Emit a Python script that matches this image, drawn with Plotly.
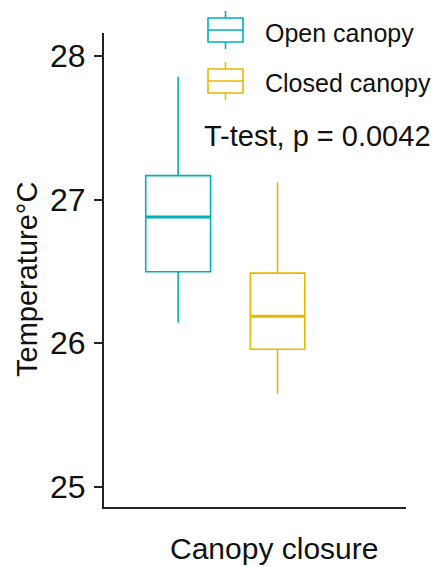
import plotly.graph_objects as go

# Temperature summaries (°C) for each canopy class
groups = ["Open canopy", "Closed canopy"]
colors = ["#00AFBB", "#E7B800"]
q1 = [26.498, 25.958]
median = [26.879, 26.188]
q3 = [27.167, 26.488]
lower_whisker = [26.144, 25.648]
upper_whisker = [27.856, 27.121]
p_value = 0.0042

y_ticks = [25, 26, 27, 28]

# box placement along the (unlabelled) x axis
box_pos = [0.2455, 0.5747]
box_width = [0.2147, 0.1805]

FONT = "Liberation Sans, Arial, sans-serif"
W, H = 438, 567
ML, MR, MT, MB = 104, 32, 33, 60
PW, PH = W - ML - MR, H - MT - MB


def px_x(x):
    return (x - ML) / PW


def px_y(y):
    return (H - MB - y) / PH


fig = go.Figure()

for i, g in enumerate(groups):
    fig.add_trace(go.Box(
        x=[box_pos[i]], q1=[q1[i]], median=[median[i]], q3=[q3[i]],
        lowerfence=[lower_whisker[i]], upperfence=[upper_whisker[i]],
        width=box_width[i], whiskerwidth=0,
        line=dict(color=colors[i], width=1.6),
        fillcolor="rgba(255,255,255,0)",
        name=g, showlegend=False, hoverinfo="skip",
    ))
    # heavier median stroke
    fig.add_trace(go.Scatter(
        x=[box_pos[i] - box_width[i] / 2, box_pos[i] + box_width[i] / 2],
        y=[median[i], median[i]], mode="lines",
        line=dict(color=colors[i], width=3.2),
        showlegend=False, hoverinfo="skip",
    ))

shapes = []
annotations = []

# legend keys: small box-and-whisker glyphs with labels
key_left, key_right = 208, 243
key_centers = [30, 81]
label_centers = [32.5, 83]
for i, g in enumerate(groups):
    cy = key_centers[i]
    c = colors[i]
    shapes.append(dict(type="rect", xref="paper", yref="paper",
                       x0=px_x(key_left), x1=px_x(key_right),
                       y0=px_y(cy - 12), y1=px_y(cy + 12),
                       line=dict(color=c, width=1.6)))
    shapes.append(dict(type="line", xref="paper", yref="paper",
                       x0=px_x(key_left), x1=px_x(key_right),
                       y0=px_y(cy), y1=px_y(cy),
                       line=dict(color=c, width=1.6)))
    xm = px_x((key_left + key_right) / 2)
    shapes.append(dict(type="line", xref="paper", yref="paper",
                       x0=xm, x1=xm, y0=px_y(cy - 12), y1=px_y(cy - 19),
                       line=dict(color=c, width=1.6)))
    shapes.append(dict(type="line", xref="paper", yref="paper",
                       x0=xm, x1=xm, y0=px_y(cy + 12), y1=px_y(cy + 19),
                       line=dict(color=c, width=1.6)))
    annotations.append(dict(text=g, xref="paper", yref="paper",
                            x=px_x(263), y=px_y(label_centers[i]),
                            xanchor="left", yanchor="middle", showarrow=False,
                            font=dict(family=FONT, size=25, color="#111111")))

annotations.append(dict(text=f"T-test, p = {p_value}", xref="paper", yref="paper",
                        x=px_x(202), y=px_y(136), xanchor="left", yanchor="middle",
                        showarrow=False,
                        font=dict(family=FONT, size=29, color="#111111")))

annotations.append(dict(text="Canopy closure", xref="paper", yref="paper",
                        x=px_x(274), y=px_y(548), xanchor="center", yanchor="middle",
                        showarrow=False,
                        font=dict(family=FONT, size=30, color="#111111")))

annotations.append(dict(text="Temperature°C", xref="paper", yref="paper",
                        x=px_x(27), y=px_y(279), xanchor="center", yanchor="middle",
                        textangle=-90, showarrow=False,
                        font=dict(family=FONT, size=29, color="#111111")))

fig.update_layout(
    width=W, height=H,
    margin=dict(l=ML, r=MR, t=MT, b=MB),
    paper_bgcolor="white", plot_bgcolor="white",
    showlegend=False,
    shapes=shapes, annotations=annotations,
    xaxis=dict(range=[0, 1], showline=True, linecolor="#222222", linewidth=2,
               showticklabels=False, ticks="", showgrid=False, zeroline=False,
               fixedrange=True),
    yaxis=dict(range=[24.86, 28.16], tickvals=y_ticks, ticktext=[str(t) for t in y_ticks],
               showline=True, linecolor="#222222", linewidth=2,
               ticks="outside", ticklen=8, tickwidth=1.6, tickcolor="#222222",
               ticklabelstandoff=2,
               tickfont=dict(family=FONT, size=32, color="#111111"),
               showgrid=False, zeroline=False, fixedrange=True),
)

fig.write_html("out.html")
